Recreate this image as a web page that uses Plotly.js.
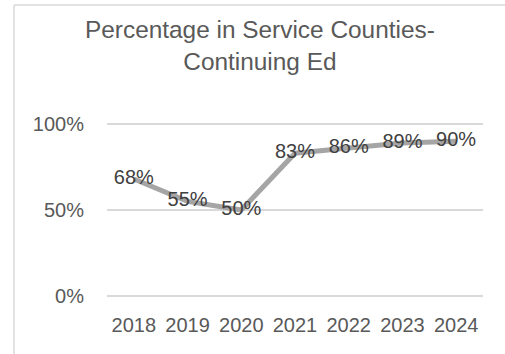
<!DOCTYPE html>
<html><head><meta charset="utf-8">
<script src="https://cdn.plot.ly/plotly-3.0.1.min.js"></script>
<style>html,body{margin:0;padding:0;background:#fff}#c{width:505px;height:354px}</style>
</head><body><div id="c"></div>
<script>
const years = ['2018','2019','2020','2021','2022','2023','2024'];
const pct = [0.68, 0.55, 0.50, 0.83, 0.86, 0.89, 0.90];
const labels = ['68%','55%','50%','83%','86%','89%','90%'];
const titleText = 'Percentage in Service Counties-<br>Continuing Ed';

const W = 505, H = 354, L = 107, R = 22, T = 123, B = 57;
const pw = W - L - R, ph = H - T - B;
const px = x => (x - L) / pw;
const py = y => 1 - (y - T) / ph;
const font = 'Liberation Sans, Arial, sans-serif';

const trace = {
  x: years, y: pct, text: labels, type: 'scatter', mode: 'lines+text',
  line: {color: '#A5A5A5', width: 5},
  textposition: 'middle center',
  textfont: {family: font, size: 20, color: '#404040'},
  cliponaxis: false, hoverinfo: 'none', showlegend: false
};

const layout = {
  width: W, height: H,
  margin: {l: L, r: R, t: T, b: B, pad: 0},
  paper_bgcolor: '#fff', plot_bgcolor: '#fff',
  xaxis: {type: 'category', showgrid: false, zeroline: false, showline: false,
    ticks: '', tickfont: {family: font, size: 20, color: '#595959'}, ticklabelstandoff: 14,
    range: [-0.5, 6.5], fixedrange: true},
  yaxis: {range: [-0.006, 1.006], tickvals: [0, 0.5, 1], ticktext: ['0%', '50%', '100%'],
    showgrid: true, gridcolor: '#D9D9D9', gridwidth: 1.3, zeroline: false, showline: false,
    ticks: '', ticklabelstandoff: 22, tickfont: {family: font, size: 20, color: '#595959'}, fixedrange: true},
  annotations: [{text: titleText, xref: 'paper', yref: 'paper', x: px(260), y: py(45),
    xanchor: 'center', yanchor: 'middle', showarrow: false,
    font: {family: font, size: 24.4, color: '#595959'}}],
  shapes: [
    {type: 'line', xref: 'paper', yref: 'paper', x0: px(14), x1: px(14), y0: py(5), y1: py(360),
      line: {color: '#D9D9D9', width: 1.5}},
    {type: 'line', xref: 'paper', yref: 'paper', x0: px(14), x1: px(510), y0: py(5), y1: py(5),
      line: {color: '#D9D9D9', width: 1.5}}
  ]
};
Plotly.newPlot('c', [trace], layout, {displayModeBar: false, staticPlot: true});
</script></body></html>
